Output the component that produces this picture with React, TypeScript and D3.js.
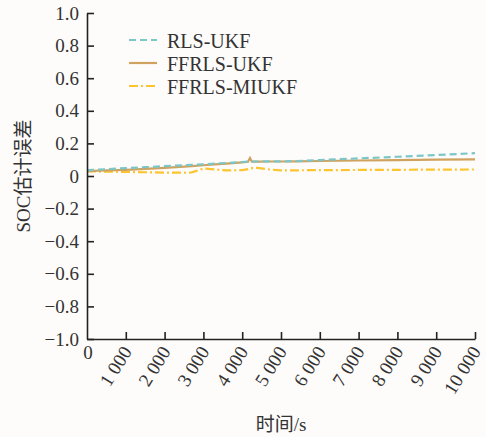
import React, { useEffect, useRef } from 'react';
import * as d3 from 'd3';

// time axis (s)
const times = [0, 500, 1000, 1500, 2000, 2500, 2700, 3000, 3300, 3600, 4000, 4150, 4200, 4250, 4400, 4700, 5000, 5400, 6000, 7000, 8000, 9000, 10000];
const rlsUkf = [0.036, 0.042, 0.048, 0.054, 0.060, 0.066, 0.068, 0.072, 0.076, 0.080, 0.086, 0.088, 0.089, 0.089, 0.089, 0.090, 0.090, 0.091, 0.098, 0.108, 0.118, 0.129, 0.140];
const ffrlsUkf = [0.030, 0.034, 0.038, 0.044, 0.050, 0.058, 0.061, 0.066, 0.071, 0.076, 0.083, 0.087, 0.110, 0.088, 0.088, 0.089, 0.089, 0.090, 0.092, 0.095, 0.098, 0.100, 0.102];
const ffrlsMiukf = [0.028, 0.027, 0.025, 0.023, 0.021, 0.020, 0.022, 0.046, 0.040, 0.034, 0.036, 0.042, 0.046, 0.048, 0.050, 0.040, 0.035, 0.035, 0.036, 0.037, 0.038, 0.039, 0.040];

const seriesNames = ['RLS-UKF', 'FFRLS-UKF', 'FFRLS-MIUKF'];
const seriesColors = ['#7cc6c8', '#cfa35f', '#fcc42f'];
const seriesDash = ['7,4', null, '9,3,2,3'];

const yTicks = [1, 0.8, 0.6, 0.4, 0.2, 0, -0.2, -0.4, -0.6, -0.8, -1];
const xTicks = [1000, 2000, 3000, 4000, 5000, 6000, 7000, 8000, 9000, 10000];
const xTickLabels = ['1 000', '2 000', '3 000', '4 000', '5 000', '6 000', '7 000', '8 000', '9 000', '10 000'];

const FONT = "'Times New Roman', 'Liberation Serif', 'Noto Sans CJK SC', serif";
const INK = '#333';

const App = () => {
  const svgRef = useRef<SVGSVGElement>(null);

  useEffect(() => {
    document.body.style.margin = '0';
    const svg = d3.select(svgRef.current);
    svg.selectAll('*').remove();

    const W = 486;
    const H = 437;
    svg.append('rect').attr('width', W).attr('height', H).attr('fill', '#fdfcfa');

    const x = d3.scaleLinear().domain([0, 10000]).range([87, 475]);
    const y = d3.scaleLinear().domain([-1, 1]).range([339, 13]);

    // series
    const allSeries = [rlsUkf, ffrlsUkf, ffrlsMiukf];
    const drawOrder = [2, 1, 0];
    drawOrder.forEach(i => {
      const line = d3.line<number>()
        .x((_, j) => x(times[j]))
        .y(d => y(d));
      const p = svg.append('path')
        .datum(allSeries[i])
        .attr('fill', 'none')
        .attr('stroke', seriesColors[i])
        .attr('stroke-width', 2.2)
        .attr('d', line);
      if (seriesDash[i]) p.attr('stroke-dasharray', seriesDash[i]);
    });

    // y axis
    const fmt = (d: number) => (d === 0 ? '0' : d.toFixed(1).replace('-', '\u2212'));
    const gy = svg.append('g')
      .attr('transform', `translate(${x(0)},0)`)
      .call(d3.axisLeft(y).tickValues(yTicks).tickSize(-7).tickSizeOuter(0).tickPadding(8).tickFormat(fmt as any));
    gy.attr('font-family', null).attr('font-size', null);
    gy.select('.domain').attr('stroke', '#222').attr('stroke-width', 1.6);
    gy.selectAll('.tick line').attr('stroke', '#222').attr('stroke-width', 1.6);
    gy.selectAll('.tick text').attr('fill', INK).style('font-family', FONT).style('font-size', '19px');

    // x axis
    const gx = svg.append('g')
      .attr('transform', `translate(0,${y(-1)})`)
      .call(d3.axisBottom(x).tickValues(xTicks).tickSize(-7).tickSizeOuter(0).tickFormat(() => ''));
    gx.select('.domain').attr('stroke', '#222').attr('stroke-width', 1.6);
    gx.selectAll('.tick line').attr('stroke', '#222').attr('stroke-width', 1.6);

    const labels = svg.append('g').style('font-family', FONT).style('font-size', '19px').attr('fill', INK);

    labels.append('text')
      .attr('x', x(0) + 1)
      .attr('y', y(-1) + 20)
      .attr('text-anchor', 'middle')
      .text('0');

    xTicks.forEach((t, i) => {
      labels.append('text')
        .attr('transform', `translate(${x(t) + 1},${y(-1) + 9}) rotate(-58)`)
        .attr('text-anchor', 'end')
        .attr('dy', '0.35em')
        .text(xTickLabels[i]);
    });

    // axis titles
    labels.append('text')
      .attr('x', (x(0) + x(10000)) / 2)
      .attr('y', 431)
      .attr('text-anchor', 'middle')
      .text('时间/s');

    labels.append('text')
      .attr('transform', `translate(30,${y(0)}) rotate(-90)`)
      .attr('text-anchor', 'middle')
      .text('SOC估计误差');

    // legend
    seriesNames.forEach((name, i) => {
      const ly = 40 + i * 23;
      const l = svg.append('line')
        .attr('x1', 129).attr('x2', 157)
        .attr('y1', ly).attr('y2', ly)
        .attr('stroke', seriesColors[i])
        .attr('stroke-width', 2.2);
      if (seriesDash[i]) l.attr('stroke-dasharray', seriesDash[i]);
      labels.append('text')
        .attr('x', 167)
        .attr('y', ly + 7.5)
        .style('font-size', '20px')
        .text(name);
    });
  }, []);

  return (
    <svg
      ref={svgRef}
      width={486}
      height={437}
      style={{ display: 'block' }}
    />
  );
};

export default App;
